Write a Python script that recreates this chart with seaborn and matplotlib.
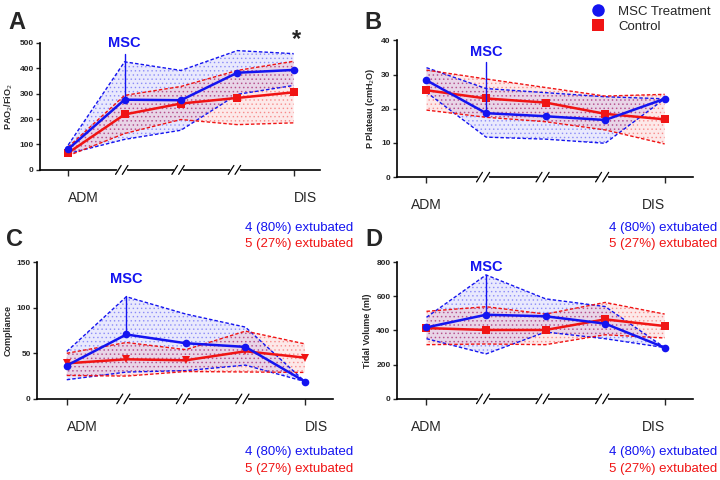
import pandas as pd
import numpy as np
import seaborn as sns
import matplotlib.pyplot as plt
import matplotlib.transforms as mtransforms
from matplotlib.colors import to_rgba
from matplotlib.lines import Line2D

times = [0, 1, 2, 3, 4]
groups = ["Control", "MSC Treatment"]

# A: PaO2/FiO2
pf_msc = [82, 276, 274, 382, 393]
pf_msc_hi = [98, 425, 391, 469, 457]
pf_msc_lo = [64, 120, 156, 297, 332]
pf_ctl = [67, 218, 261, 283, 305]
pf_ctl_hi = [90, 293, 328, 391, 427]
pf_ctl_lo = [56, 143, 198, 178, 185]

# B: plateau pressure
pp_msc = [28.3, 18.7, 17.8, 16.7, 22.9]
pp_msc_hi = [32.0, 25.9, 24.7, 23.5, 22.9]
pp_msc_lo = [24.8, 11.7, 11.1, 9.9, 22.9]
pp_ctl = [25.4, 23.0, 21.8, 18.5, 16.9]
pp_ctl_hi = [31.3, 28.7, 26.2, 23.7, 24.2]
pp_ctl_lo = [19.6, 17.5, 16.2, 13.8, 9.7]

# C: compliance
cp_msc = [36.5, 70.6, 61, 57, 19]
cp_msc_hi = [52, 112, 93, 78.7, 19]
cp_msc_lo = [21, 29.4, 31, 37, 19]
cp_ctl = [39, 43.4, 42.3, 52.2, 45.2]
cp_ctl_hi = [50, 61.8, 54, 74.3, 60.3]
cp_ctl_lo = [25.7, 25, 30, 29.5, 29]

# D: tidal volume
tv_msc = [418, 492, 483, 440, 300]
tv_msc_hi = [477, 725, 585, 540, 300]
tv_msc_lo = [352, 263, 391, 352, 300]
tv_ctl = [414, 403, 403, 465, 426]
tv_ctl_hi = [512, 539, 496, 564, 496]
tv_ctl_lo = [317, 321, 317, 375, 356]

BLUE = "#1414f0"
RED = "#f01414"

sns.set_theme(style="ticks")
plt.rcParams["font.family"] = ["Liberation Sans", "DejaVu Sans"]
plt.rcParams["hatch.linewidth"] = 0.6

fig = plt.figure(figsize=(7.2, 4.8), dpi=100)


def draw_panel(rect, msc, msc_hi, msc_lo, ctl, ctl_hi, ctl_lo, ctl_marker,
               ymax, ystep, ylabel, msc_top, msc_text_y, label_ha):
    ax = fig.add_axes(rect)
    for hi, lo, col in [(msc_hi, msc_lo, BLUE), (ctl_hi, ctl_lo, RED)]:
        ax.fill_between(times, lo, hi, facecolor=to_rgba(col, 0.09),
                        edgecolor=to_rgba(col, 0.33), hatch="....", lw=0)
        ax.plot(times, hi, color=col, lw=1, ls=(0, (2.5, 1.5)))
        ax.plot(times, lo, color=col, lw=1, ls=(0, (2.5, 1.5)))

    df = pd.DataFrame({"time": times * 2, "value": ctl + msc,
                       "group": [groups[0]] * 5 + [groups[1]] * 5})
    sns.lineplot(data=df, x="time", y="value", hue="group", style="group",
                 hue_order=groups, style_order=groups,
                 palette={groups[0]: RED, groups[1]: BLUE},
                 markers={groups[0]: ctl_marker, groups[1]: "o"},
                 dashes=False, markersize=5.5, markeredgewidth=0,
                 linewidth=1.8, errorbar=None, legend=False, ax=ax)

    # MSC infusion mark
    ax.plot([1, 1], [msc[1], msc_top], color=BLUE, lw=1)
    ax.text(1, msc_text_y, "MSC", color=BLUE, fontsize=10.5,
            fontweight="bold", ha="center", va="bottom")

    ax.set_xlim(-0.5, 4.47)
    ax.set_ylim(0, ymax)
    ax.set_yticks(np.arange(0, ymax + 1, ystep))
    ax.set_xticks([0, 4])
    ax.set_xticklabels(["ADM", "DIS"], fontsize=10)
    for lab, ha in zip(ax.get_xticklabels(), label_ha):
        lab.set_horizontalalignment(ha)
    ax.set_xlabel("")
    ax.set_ylabel(ylabel, fontsize=6.5, fontweight="bold", labelpad=3)
    for lab in ax.get_yticklabels():
        lab.set_fontweight("bold")
        lab.set_fontsize(6)
    ax.tick_params(axis="x", length=4, width=1, pad=11)
    ax.tick_params(axis="y", length=3, width=1, pad=1.5)
    sns.despine(ax=ax)
    for s in ["left", "bottom"]:
        ax.spines[s].set_linewidth(1.2)
        ax.spines[s].set_color("black")

    # axis breaks
    trans = mtransforms.blended_transform_factory(ax.transData, ax.transAxes)
    for xb in [1, 2, 3]:
        c = xb - 0.05
        ax.plot([c - 0.06, c + 0.06], [0, 0], color="white", lw=2.5,
                transform=trans, clip_on=False, zorder=10)
        for d in [-0.06, 0.06]:
            ax.plot([c + d - 0.05, c + d + 0.05], [-0.035, 0.035],
                    color="black", lw=0.9, transform=trans, clip_on=False,
                    zorder=11)
    return ax


axA = draw_panel([0.0556, 0.646, 0.389, 0.265], pf_msc, pf_msc_hi, pf_msc_lo,
                 pf_ctl, pf_ctl_hi, pf_ctl_lo, "s", 500, 100,
                 "PAO$_2$/FiO$_2$", 455, 470, ["left", "left"])
axB = draw_panel([0.551, 0.631, 0.411, 0.285], pp_msc, pp_msc_hi, pp_msc_lo,
                 pp_ctl, pp_ctl_hi, pp_ctl_lo, "s", 40, 10,
                 "P Plateau (cmH$_2$O)", 33.7, 34.6, ["center", "right"])
axC = draw_panel([0.0514, 0.169, 0.411, 0.285], cp_msc, cp_msc_hi, cp_msc_lo,
                 cp_ctl, cp_ctl_hi, cp_ctl_lo, "v", 150, 50,
                 "Compliance", 113, 124, ["left", "left"])
axD = draw_panel([0.551, 0.169, 0.411, 0.285], tv_msc, tv_msc_hi, tv_msc_lo,
                 tv_ctl, tv_ctl_hi, tv_ctl_lo, "s", 800, 200,
                 "Tidal Volume (ml)", 722, 730, ["center", "right"])

# panel letters
for x, y, t in [(0.012, 0.953, "A"), (0.506, 0.953, "B"),
                (0.008, 0.5, "C"), (0.508, 0.5, "D")]:
    fig.text(x, y, t, fontsize=17, fontweight="bold", va="center")

fig.text(297 / 720, 1 - 40 / 480, "*", fontsize=17, fontweight="bold",
         ha="center", va="center")

# extubation counts
for xr, yb in [(353 / 720, 0.526), (717 / 720, 0.526),
               (353 / 720, 0.058), (717 / 720, 0.058)]:
    fig.text(xr, yb, "4 (80%) extubated", color=BLUE, fontsize=9.5,
             ha="right", va="center")
    fig.text(xr, yb - 0.035, "5 (27%) extubated", color=RED, fontsize=9.5,
             ha="right", va="center")

handles = [Line2D([], [], marker="o", color=BLUE, ls="", markersize=9,
                  markeredgewidth=0),
           Line2D([], [], marker="s", color=RED, ls="", markersize=8,
                  markeredgewidth=0)]
fig.legend(handles, ["MSC Treatment", "Control"], loc="upper left",
           bbox_to_anchor=(580 / 720, 1.0), frameon=False, fontsize=9.5,
           handletextpad=0.5, labelspacing=0.25, borderaxespad=0)

plt.savefig("out.png", dpi=100)
